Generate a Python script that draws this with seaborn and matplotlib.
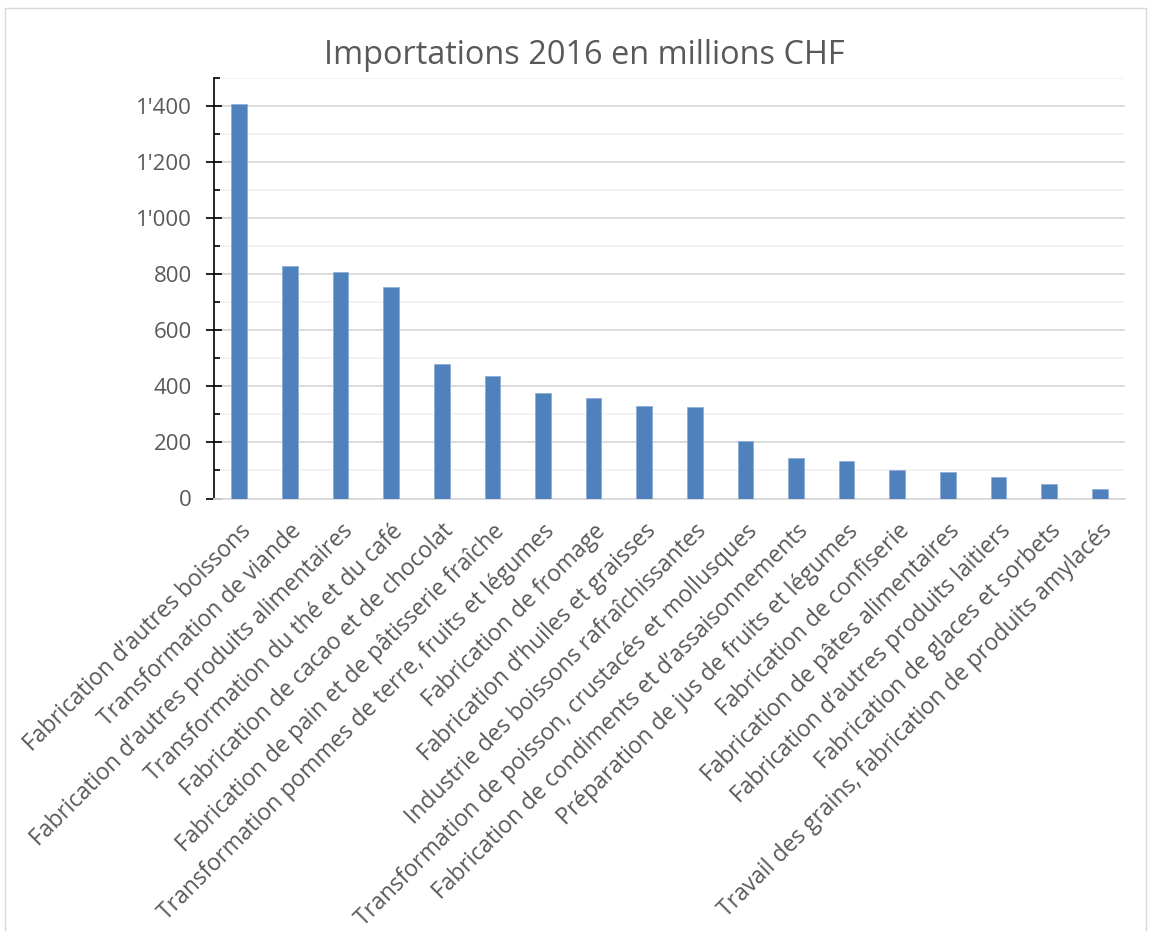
import matplotlib
matplotlib.use("Agg")
import matplotlib.pyplot as plt
import seaborn as sns
import pandas as pd
from matplotlib.ticker import MultipleLocator, FuncFormatter
from matplotlib.patches import Rectangle

categories = [
    "Fabrication d’autres boissons",
    "Transformation de viande",
    "Fabrication d’autres produits alimentaires",
    "Transformation du thé et du café",
    "Fabrication de cacao et de chocolat",
    "Fabrication de pain et de pâtisserie fraîche",
    "Transformation pommes de terre, fruits et légumes",
    "Fabrication de fromage",
    "Fabrication d’huiles et graisses",
    "Industrie des boissons rafraîchissantes",
    "Transformation de poisson, crustacés et mollusques",
    "Fabrication de condiments et d’assaisonnements",
    "Préparation de jus de fruits et légumes",
    "Fabrication de confiserie",
    "Fabrication de pâtes alimentaires",
    "Fabrication d’autres produits laitiers",
    "Fabrication de glaces et sorbets",
    "Travail des grains, fabrication de produits amylacés",
]
values = [1406, 828, 809, 755, 479, 437, 376, 358, 330, 326, 206, 144, 133, 100, 93, 77, 50, 34]
yticks = [0, 200, 400, 600, 800, 1000, 1200, 1400]

sns.set_theme(style="white")
plt.rcParams['font.family'] = ['Open Sans', 'DejaVu Sans']

df = pd.DataFrame({"cat": categories, "val": values})

fig = plt.figure(figsize=(11.51, 9.31), dpi=100)
ax = fig.add_axes([214/1151, 1 - 498.5/931, (1125-214)/1151, (498.5-78)/931])

sns.barplot(data=df, x="cat", y="val", color="#4F81BD", width=0.31,
            saturation=1, edgecolor="#8EADD6", linewidth=0.6, ax=ax, zorder=3)

ax.set_ylim(0, 1500)
ax.set_xlim(-0.5, len(categories) - 0.5)
ax.set_yticks(yticks)
ax.yaxis.set_minor_locator(MultipleLocator(100))
ax.yaxis.set_major_formatter(FuncFormatter(lambda v, p: f"{int(v):,}".replace(",", "'")))
ax.grid(axis="y", which="major", color="#d9d9d9", linewidth=1.3, zorder=0)
ax.grid(axis="y", which="minor", color="#f2f2f2", linewidth=1.3, zorder=0)
ax.set_axisbelow(True)

for s in ["top", "right"]:
    ax.spines[s].set_visible(False)
ax.spines["left"].set_color("black")
ax.spines["left"].set_linewidth(1.2)
ax.spines["bottom"].set_color("#d9d9d9")
ax.spines["bottom"].set_linewidth(1.3)

ax.tick_params(axis="y", which="major", direction="inout", length=11.5, width=1.2,
               color="black", labelsize=16, labelcolor="#595959", pad=10, left=True)
ax.tick_params(axis="y", which="minor", direction="in", length=4.5, width=1.2,
               color="black", left=True)
ax.tick_params(axis="x", length=0, labelsize=16.5, labelcolor="#595959", pad=15)

ax.set_xticks(range(len(categories)))
ax.set_xticklabels(categories, rotation=45, ha="right", va="top", rotation_mode="anchor")
ax.set_xlabel("")
ax.set_ylabel("")

fig.text(584/1151, 1 - 56/931, "Importations 2016 en millions CHF", ha="center", va="center",
         fontsize=23.4, color="#595959")

fig.patches.append(Rectangle((5/1151, -0.01), 1141/1151, 1 - 8/931 + 0.01,
                             transform=fig.transFigure, fill=False,
                             edgecolor="#d9d9d9", linewidth=1.0))

fig.savefig("out.png", dpi=100)
